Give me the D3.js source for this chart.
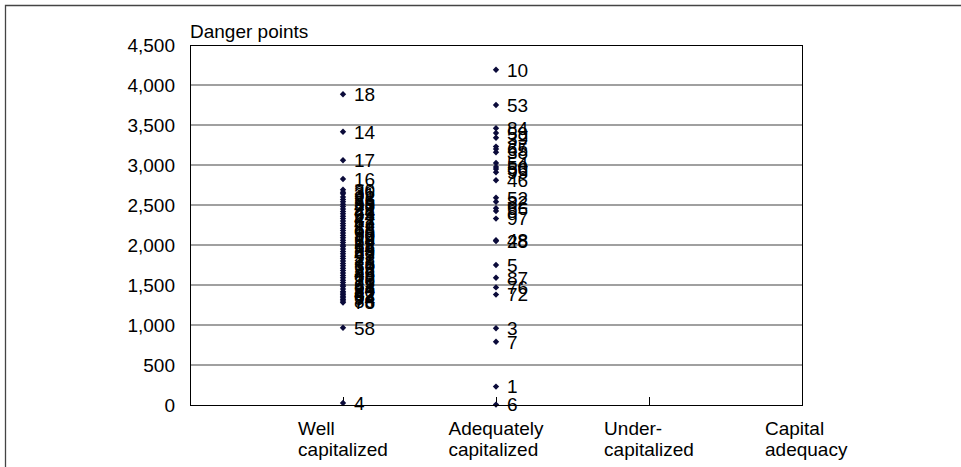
<!DOCTYPE html>
<html>
<head>
<meta charset="utf-8">
<script src="https://cdn.jsdelivr.net/npm/d3@7/dist/d3.min.js"></script>
<style>
  html, body { margin: 0; padding: 0; background: #fff; }
  svg { display: block; font-family: "Liberation Sans", Arial, sans-serif; }
</style>
</head>
<body>
<svg id="chart" width="961" height="467"></svg>
<script>
// ---- data ----
const categories = ["Well\ncapitalized", "Adequately\ncapitalized", "Under-\ncapitalized"];
const categoryX = [1, 2, 3];
const yTicks = [0, 500, 1000, 1500, 2000, 2500, 3000, 3500, 4000, 4500];
const yTitle = "Danger points";
const xTitle = "Capital\nadequacy";

const wellValues = [3885, 3415, 3060, 2825,
  2690, 2660, 2640, 2600, 2570, 2540, 2510, 2480, 2450, 2420, 2390, 2360, 2330, 2300,
  2270, 2240, 2210, 2180, 2150, 2120, 2090, 2060, 2030, 2000, 1980, 1950, 1920, 1890,
  1860, 1830, 1800, 1770, 1740, 1710, 1680, 1650, 1620, 1590, 1560, 1530, 1500, 1480,
  1450, 1420, 1400, 1380, 1360, 1340, 1320, 1300, 1280, 965, 25];
const wellLabels = ["18", "14", "17", "16",
  "30", "36", "31", "22", "26", "55", "33", "40", "21", "44", "69", "24", "41", "62",
  "47", "12", "88", "63", "35", "90", "19", "64", "29", "11", "68", "85", "38", "43",
  "57", "23", "71", "15", "60", "73", "32", "45", "89", "13", "70", "25", "61", "81",
  "34", "20", "42", "67", "83", "9", "74", "86", "78", "58", "4"];

const adequateValues = [4190, 3750, 3460, 3400, 3340, 3230, 3200, 3160, 3025, 2975, 2950,
  2910, 2810, 2590, 2540, 2460, 2425, 2330, 2060, 2050, 1750, 1590, 1470, 1380, 960, 790, 230, 5];
const adequateLabels = ["10", "53", "84", "59", "39", "27", "65", "38", "54", "50", "56",
  "95", "46", "52", "82", "66", "8", "97", "48", "28", "5", "87", "76", "72", "3", "7", "1", "6"];

(function () {
const FS = 19;
const svg = d3.select("#chart");
const pL = 190, pR = 802, pT = 45, pB = 405;
const x = d3.scaleLinear().domain([0, 4]).range([pL, pR]);
const y = d3.scaleLinear().domain([0, 4500]).range([pB, pT]);

// outer frame
svg.append("path")
  .attr("d", "M5.5,467 L5.5,5.5 L961,5.5")
  .attr("fill", "none").attr("stroke", "#444").attr("stroke-width", 1.3);

// gridlines
svg.append("g").selectAll("line")
  .data(yTicks.filter(d => d > 0 && d < 4500))
  .join("line")
  .attr("x1", pL).attr("x2", pR)
  .attr("y1", d => y(d)).attr("y2", d => y(d))
  .attr("stroke", "#808080").attr("stroke-width", 1.4);

// y axis labels
const yAxis = svg.append("g")
  .attr("transform", `translate(${pL},0)`)
  .call(d3.axisLeft(y).tickValues(yTicks).tickFormat(d3.format(",")).tickSize(0).tickPadding(15));
yAxis.select(".domain").remove();
yAxis.selectAll("text").attr("font-size", FS).attr("fill", "#000")
  .attr("font-family", "'Liberation Sans', Arial, sans-serif");

// x axis with inward ticks
const xAxis = svg.append("g")
  .attr("transform", `translate(0,${pB})`)
  .call(d3.axisBottom(x).tickValues(categoryX).tickSize(-8).tickFormat(""));
xAxis.select(".domain").remove();
xAxis.selectAll(".tick line").attr("stroke", "#000").attr("stroke-width", 1);

// multiline category labels (left-aligned block centred on tick)
function multiLine(g, str, cx, leftAligned) {
  const t = g.append("text").attr("font-size", FS).attr("fill", "#000");
  const lines = str.split("\n");
  lines.forEach((ln, i) => {
    t.append("tspan").attr("x", 0).attr("y", 435 + i * 21).text(ln);
  });
  let w = 0;
  t.selectAll("tspan").each(function () { w = Math.max(w, this.getComputedTextLength()); });
  const x0 = leftAligned ? cx : cx - w / 2;
  t.selectAll("tspan").attr("x", x0);
}
const labG = svg.append("g");
categories.forEach((c, i) => multiLine(labG, c, x(categoryX[i]), false));
multiLine(labG, xTitle, 765, true);

// y title
svg.append("text").attr("x", pL).attr("y", 38).attr("font-size", FS).attr("fill", "#000").text(yTitle);

// points
const pts = [];
wellValues.forEach((v, i) => pts.push({ cx: categoryX[0], v, label: wellLabels[i] }));
adequateValues.forEach((v, i) => pts.push({ cx: categoryX[1], v, label: adequateLabels[i] }));

svg.append("g").selectAll("path")
  .data(pts).join("path")
  .attr("d", d3.symbol(d3.symbolDiamond2, 26))
  .attr("transform", d => `translate(${x(d.cx)},${y(d.v)})`)
  .attr("fill", "#0b0b3a");

svg.append("g").selectAll("text")
  .data(pts).join("text")
  .attr("x", d => x(d.cx) + 11)
  .attr("y", d => y(d.v))
  .attr("dy", "0.36em")
  .attr("font-size", FS)
  .attr("fill", "#000")
  .text(d => d.label);

// plot border
svg.append("rect")
  .attr("x", pL + 0.5).attr("y", pT + 0.5)
  .attr("width", pR - pL).attr("height", pB - pT)
  .attr("fill", "none").attr("stroke", "#000").attr("stroke-width", 1);
})();
</script>
</body>
</html>
